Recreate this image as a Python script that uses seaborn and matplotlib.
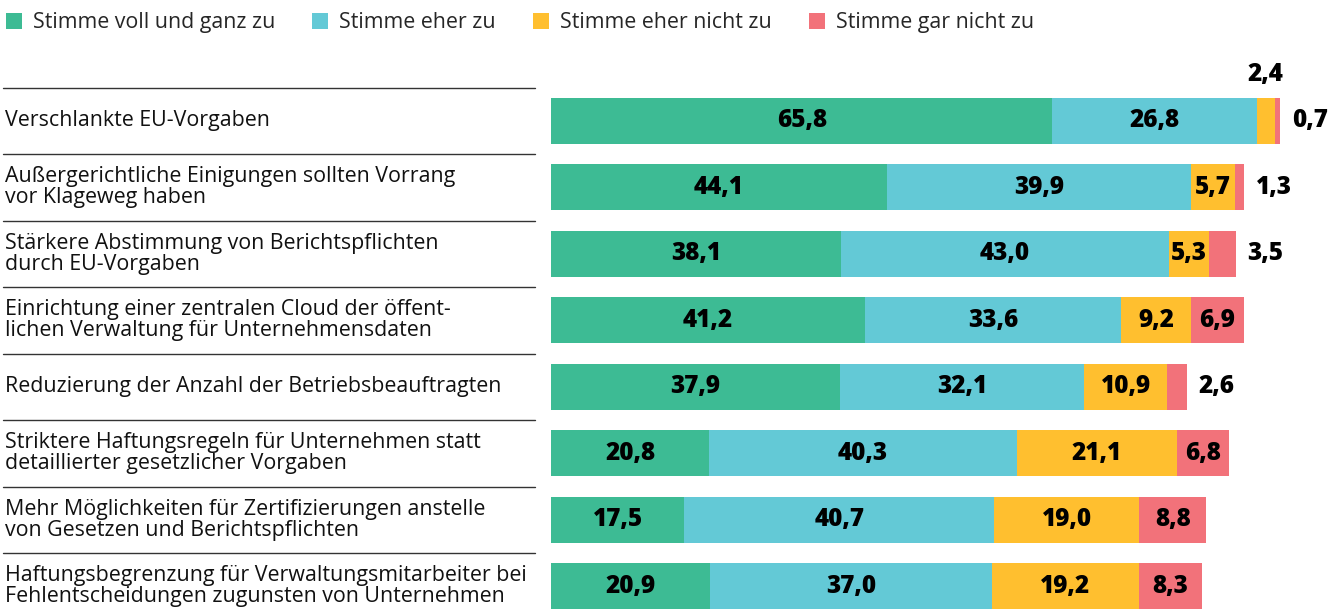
import numpy as np
import pandas as pd
import seaborn as sns
import matplotlib.pyplot as plt
from matplotlib.patches import Patch
from matplotlib.lines import Line2D
from matplotlib.transforms import blended_transform_factory

sns.set_theme(style="white")
plt.rcParams['font.family'] = ['Open Sans', 'DejaVu Sans']

categories = [
    "Verschlankte EU-Vorgaben",
    "Außergerichtliche Einigungen sollten Vorrang\nvor Klageweg haben",
    "Stärkere Abstimmung von Berichtspflichten\ndurch EU-Vorgaben",
    "Einrichtung einer zentralen Cloud der öffent-\nlichen Verwaltung für Unternehmensdaten",
    "Reduzierung der Anzahl der Betriebsbeauftragten",
    "Striktere Haftungsregeln für Unternehmen statt\ndetaillierter gesetzlicher Vorgaben",
    "Mehr Möglichkeiten für Zertifizierungen anstelle\nvon Gesetzen und Berichtspflichten",
    "Haftungsbegrenzung für Verwaltungsmitarbeiter bei\nFehlentscheidungen zugunsten von Unternehmen",
]
series_names = ["Stimme voll und ganz zu", "Stimme eher zu", "Stimme eher nicht zu", "Stimme gar nicht zu"]
voll = [65.8, 44.1, 38.1, 41.2, 37.9, 20.8, 17.5, 20.9]
eher = [26.8, 39.9, 43.0, 33.6, 32.1, 40.3, 40.7, 37.0]
eher_nicht = [2.4, 5.7, 5.3, 9.2, 10.9, 21.1, 19.0, 19.2]
gar_nicht = [0.7, 1.3, 3.5, 6.9, 2.6, 6.8, 8.8, 8.3]
colors = ["#3dbb94", "#63c9d6", "#ffbf2f", "#f2727a"]

series = [voll, eher, eher_nicht, gar_nicht]
df = pd.DataFrame({"cat": categories})
cums = np.cumsum(np.array(series), axis=0)
for k in range(4):
    df[f"c{k}"] = cums[k]

W, H = 1338, 611
fig = plt.figure(figsize=(W / 100, H / 100), dpi=100)
ax = fig.add_axes([551 / W, 0, 762 / W, (611 - 52) / H])

for k in range(3, -1, -1):
    sns.barplot(data=df, x=f"c{k}", y="cat", color=colors[k], saturation=1,
                width=0.69, orient="h", errorbar=None, ax=ax, linewidth=0)

ax.set_xlim(0, 100)
ax.set_ylim(7.37, -1.035)
ax.set_xticks([])
ax.set_yticks([])
ax.set_xlabel("")
ax.set_ylabel("")
for s in ax.spines.values():
    s.set_visible(False)

fs = 15.4
vfs = 17.5
def fmt(v):
    return f"{v:.1f}".replace(".", ",")

for i in range(len(categories)):
    left = 0
    for k in range(4):
        v = series[k][i]
        if v >= 5:
            ax.text(left + v / 2, i, fmt(v), ha="center", va="center",
                    fontsize=vfs, fontweight="heavy", color="black")
        elif k == 3:
            ax.text(cums[3][i] + 1.5, i, fmt(v), ha="left", va="center",
                    fontsize=vfs, fontweight="heavy", color="black", clip_on=False)
        else:
            ax.text(left + v / 2, i - 0.69, fmt(v), ha="center", va="center",
                    fontsize=vfs, fontweight="heavy", color="black", clip_on=False)
        left += v

tr = blended_transform_factory(fig.transFigure, ax.transData)
for i, c in enumerate(categories):
    fig.text(5 / W, i, c, transform=tr, ha="left", va="center",
             fontsize=fs, color="#111111", linespacing=1.0)
    fig.add_artist(Line2D([3 / W, 535 / W], [i - 0.5, i - 0.5], transform=tr,
                          color="#333333", linewidth=1.0))

handles = [Patch(facecolor=colors[k], edgecolor="none", label=series_names[k]) for k in range(4)]
fig.legend(handles=handles, loc="upper left", bbox_to_anchor=(-0.002, 0.994), ncol=4,
           frameon=False, fontsize=fs, handlelength=0.75, handleheight=0.75,
           handletextpad=0.5, columnspacing=1.75, borderpad=0.2, borderaxespad=0.2)

fig.savefig("out.png", dpi=100)
